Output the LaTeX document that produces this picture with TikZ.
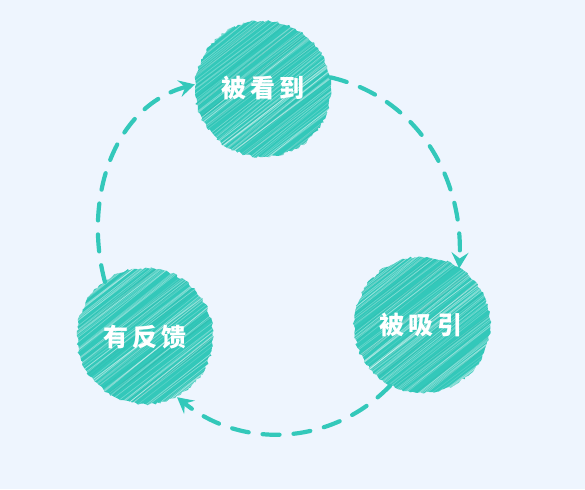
\documentclass[tikz,border=0pt]{standalone}
\usepackage{fontspec}
\newfontfamily\cjk{Noto Sans CJK SC}
\usetikzlibrary{arrows.meta,decorations.pathmorphing}
\definecolor{mint}{HTML}{33C8BA}
\definecolor{paper}{HTML}{EEF5FE}
\tikzset{
  bubble/.style={circle, minimum size=136pt, inner sep=0pt, text=white,
    font=\cjk\bfseries\fontsize{25}{25}\selectfont},
  loop arrow/.style={mint, line width=4.2pt, line cap=round,
    dash pattern=on 17pt off 14pt, -{Stealth[length=16pt,width=17pt,inset=6pt]}},
  rough/.style={decorate, decoration={random steps, segment length=2.5pt, amplitude=1.3pt}}
}
\begin{document}
\begin{tikzpicture}[x=1pt,y=1pt]
\pgfmathsetseed{11}
% Background
\fill[paper] (0,0) rectangle (585,489);
\useasboundingbox (0,0) rectangle (585,489);
% Sketched discs
\foreach \cx/\cy in {263/400, 422/164, 145/153}
{
  \begin{scope}[shift={(\cx,\cy)}]
    \path[rough, clip] (0,0) circle (68pt);
    \fill[mint] (0,0) circle (72pt);
    \foreach \k in {1,...,90}
    {
      \pgfmathsetmacro\off{72*rand}
      \pgfmathsetmacro\op{0.12+0.28*rnd}
      \draw[white, opacity=\op, line width=0.7pt, rotate=38] (-80,\off) -- (80,\off+4*rand);
    }
    \foreach \k in {1,...,30}
    {
      \pgfmathsetmacro\off{72*rand}
      \draw[mint!80!black, opacity=0.18, line width=0.5pt, rotate=38] (-80,\off) -- (80,\off+4*rand);
    }
  \end{scope}
}
% Labels
\node[bubble] (seen) at (263,401) {被\hspace{4pt}看\hspace{4pt}到};
\node[bubble] (drawn) at (421,164) {被\hspace{4pt}吸\hspace{4pt}引};
\node[bubble] (feed) at (145,152) {有\hspace{4pt}反\hspace{4pt}馈};
% Loop
\draw[loop arrow] (feed.126) to[out=105,in=195] (seen.177);
\draw[loop arrow] (seen.9) to[out=-13,in=87] (drawn.56);
\draw[loop arrow] (drawn.243) to[out=226,in=321] (feed.298);
\end{tikzpicture}
\end{document}
